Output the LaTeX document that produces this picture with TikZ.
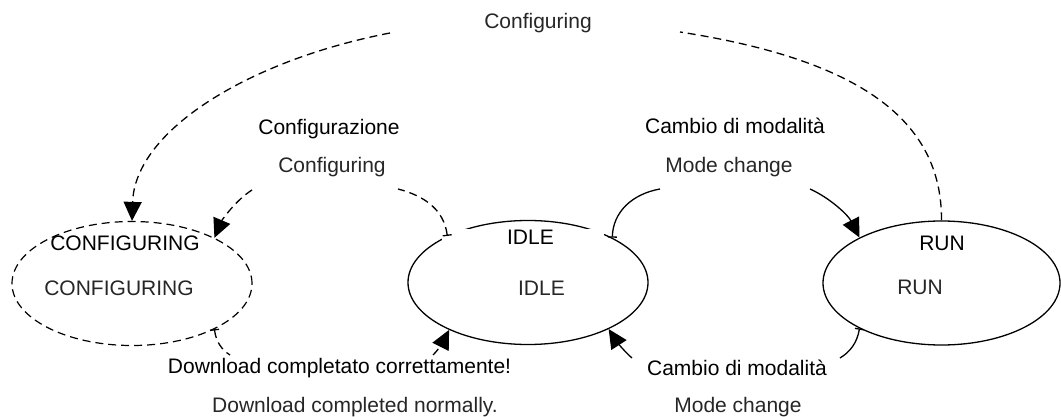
\documentclass[tikz,border=0pt]{standalone}
\usepackage{fontspec}
\setmainfont{Liberation Sans}
\usetikzlibrary{arrows.meta,shapes.geometric}
\begin{document}
\begin{tikzpicture}[x=1pt,y=-1pt,
  state/.style={ellipse, draw, line width=1.3pt, minimum width=240pt, minimum height=124pt, inner sep=0pt},
  it/.style={anchor=base, inner sep=0pt, font=\fontsize{21}{25}\selectfont, text=black},
  en/.style={anchor=base, inner sep=0pt, font=\fontsize{21}{25}\selectfont, text=black!85},
  conn/.style={line width=1.3pt},
  dsh/.style={conn, dash pattern=on 8pt off 5pt},
  tick/.style={{Bar[width=9pt]}-},
  head/.style={-{Triangle[length=19pt,width=18pt]}},
]
\useasboundingbox (0,0) rectangle (1061,417);

% states
\node[state, line width=1.2pt, dash pattern=on 8pt off 5pt] (conf) at (132,283.5) {};
\node[state] (idle) at (528,282.5) {};
\node[state, minimum width=237pt] (run) at (941.5,283) {};

% state labels
\node[it, fill=white, inner xsep=50pt, inner ysep=1pt] (idleit) at (523,244) {\hspace*{15pt}IDLE};
\node[en] (idleen) at (541.5,295) {IDLE};
\node[it] (confit) at (125,250) {CONFIGURING};
\node[en] (confen) at (119,295) {CONFIGURING};
\node[it] (runit) at (942,251) {RUN};
\node[en] (runen) at (920,294) {RUN};

% transition labels
\node[en] (top) at (538,29) {Configuring};
\node[it] (cfgit) at (329,135) {Configurazione};
\node[en] (cfgen) at (332,173) {Configuring};
\node[it] (mcit1) at (735,134) {Cambio di modalità};
\node[en] (mcen1) at (729,173) {Mode change};
\node[it] (mcit2) at (737,375) {Cambio di modalità};
\node[en] (mcen2) at (738,412) {Mode change};
\node[it] (dlit) at (339.5,373) {Download completato correttamente!};
\node[en] (dlen) at (355,412) {Download completed normally.};

% free ends of the split connectors
\coordinate (a1) at (680,32);  \coordinate (a2) at (390,33);
\coordinate (b1) at (398,189); \coordinate (b2) at (252,190);
\coordinate (c1) at (660,189); \coordinate (c2) at (810,189);
\coordinate (d1) at (840,358); \coordinate (d2) at (632,358);
\coordinate (e1) at (230,355); \coordinate (e2) at (433,355);

% RUN -> CONFIGURING (over the top)
\draw[dsh] (run.north) .. controls (942,120) and (860,60) .. (a1);
\draw[dsh, head] (a2) .. controls (250,60) and (135,130) .. (conf.north);
% IDLE -> CONFIGURING
\draw[dsh, tick] (idle.150) .. controls (444,210) and (425,196) .. (b1);
\draw[dsh, head] (b2) .. controls (236,200) and (222,220) .. (conf.29);
% IDLE -> RUN
\draw[conn, tick] (idle.28) .. controls (613,212) and (632,194) .. (c1);
\draw[conn, head] (c2) .. controls (830,198) and (848,215) .. (run.151);
% RUN -> IDLE
\draw[conn, tick] (run.209) .. controls (857,343) and (850,352) .. (d1);
\draw[conn, head] (d2) .. controls (625,352) and (617,342) .. (idle.330);
% CONFIGURING -> IDLE
\draw[dsh, tick] (conf.331) .. controls (216,342) and (222,350) .. (e1);
\draw[dsh, head] (e2) .. controls (440,348) and (444,340) .. (idle.211);
\end{tikzpicture}
\end{document}
